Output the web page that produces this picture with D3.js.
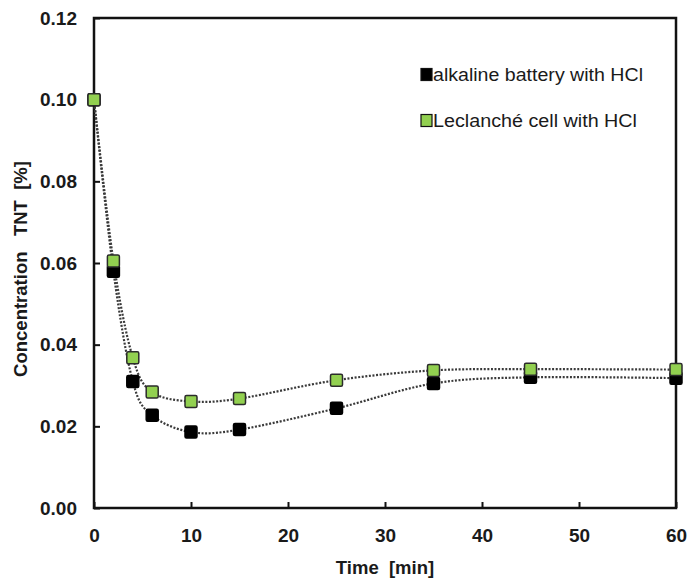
<!DOCTYPE html>
<html>
<head>
<meta charset="utf-8">
<script src="https://cdn.jsdelivr.net/npm/d3@7"></script>
<style>
	body { margin: 0; background: #fff; }
	text { font-family: 'Liberation Sans', Arial, sans-serif; }
</style>
</head>
<body>
<script>
	// DATA
	const times = [0, 2, 4, 6, 10, 15, 25, 35, 45, 60];
	const alkaline = [0.100, 0.058, 0.031, 0.0227, 0.0186, 0.0192, 0.0244, 0.0305, 0.0320, 0.0318];
	const leclanche = [0.100, 0.0605, 0.0368, 0.0284, 0.0261, 0.0268, 0.0313, 0.0337, 0.0340, 0.0339];
	const seriesNames = ['alkaline battery with HCl', 'Leclanché cell with HCl'];
	const xTicks = [0, 10, 20, 30, 40, 50, 60];
	const yTicks = [0, 0.02, 0.04, 0.06, 0.08, 0.10, 0.12];

	// CONFIGURATION
	const width = 689;
	const height = 580;
	const plotLeft = 94, plotRight = 676, plotTop = 18, plotBottom = 508;
	const fills = ['#000000', '#92d050'];

	const svg = d3.select('body')
		.append('svg')
		.attr('width', width)
		.attr('height', height);

	const xScale = d3.scaleLinear().domain([0, 60]).range([plotLeft, plotRight]);
	const yScale = d3.scaleLinear().domain([0, 0.12]).range([plotBottom, plotTop]);

	// AXES (ticks inward)
	svg.append('g')
		.attr('transform', `translate(0, ${plotBottom})`)
		.call(d3.axisBottom(xScale).tickValues(xTicks).tickSizeInner(-6).tickSizeOuter(0).tickPadding(21).tickFormat(d3.format('d')))
		.call(g => g.select('.domain').remove())
		.call(g => g.selectAll('line').attr('stroke', '#111').attr('stroke-width', 2))
		.call(g => g.selectAll('text').attr('font-size', 19).attr('font-weight', 'bold').attr('fill', '#1a1a1a').attr('font-family', 'Liberation Sans, Arial, sans-serif'));

	svg.append('g')
		.attr('transform', `translate(${plotLeft}, 0)`)
		.call(d3.axisLeft(yScale).tickValues(yTicks).tickSizeInner(-6).tickSizeOuter(0).tickPadding(17).tickFormat(d3.format('.2f')))
		.call(g => g.select('.domain').remove())
		.call(g => g.selectAll('line').attr('stroke', '#111').attr('stroke-width', 2))
		.call(g => g.selectAll('text').attr('font-size', 19).attr('font-weight', 'bold').attr('fill', '#1a1a1a').attr('font-family', 'Liberation Sans, Arial, sans-serif'));

	// FRAME
	svg.append('rect')
		.attr('x', plotLeft)
		.attr('y', plotTop)
		.attr('width', plotRight - plotLeft)
		.attr('height', plotBottom - plotTop)
		.attr('fill', 'none')
		.attr('stroke', '#111')
		.attr('stroke-width', 2.5);

	// LINES
	const line = d3.line()
		.x(d => xScale(d[0]))
		.y(d => yScale(d[1]))
		.curve(d3.curveCatmullRom.alpha(0));

	[alkaline, leclanche].forEach(values => {
		svg.append('path')
			.datum(times.map((t, i) => [t, values[i]]))
			.attr('d', line)
			.attr('fill', 'none')
			.attr('stroke', '#3a3a3a')
			.attr('stroke-width', 2.2)
			.attr('stroke-dasharray', '2 1.6');
	});

	// MARKERS
	const size = 12;
	[alkaline, leclanche].forEach((values, k) => {
		svg.append('g')
			.selectAll('rect')
			.data(times.map((t, i) => [t, values[i]]))
			.enter()
			.append('rect')
			.attr('x', d => xScale(d[0]) - size / 2)
			.attr('y', d => yScale(d[1]) - size / 2)
			.attr('width', size)
			.attr('height', size)
			.attr('rx', 1.5)
			.attr('fill', fills[k])
			.attr('stroke', k === 0 ? '#000' : '#2b2b2b')
			.attr('stroke-width', 1.5);
	});

	// LEGEND
	const legend = svg.append('g');
	const legendWidths = [210, 204];
	seriesNames.forEach((name, k) => {
		const cy = 74.5 + k * 46;
		legend.append('rect')
			.attr('x', 421)
			.attr('y', cy - 6)
			.attr('width', 11)
			.attr('height', 12)
			.attr('fill', fills[k])
			.attr('stroke', '#111')
			.attr('stroke-width', 1.2);
		legend.append('text')
			.attr('x', 433)
			.attr('y', cy + 6)
			.attr('font-size', 17.5)
			.attr('fill', '#1a1a1a')
			.attr('textLength', legendWidths[k])
			.attr('lengthAdjust', 'spacingAndGlyphs')
			.text(name);
	});

	// AXIS TITLES
	svg.append('text')
		.attr('x', (plotLeft + plotRight) / 2)
		.attr('y', 574)
		.attr('text-anchor', 'middle')
		.attr('font-size', 18.5)
		.attr('font-weight', 'bold')
		.attr('fill', '#1a1a1a')
		.style('white-space', 'pre')
		.text('Time  [min]');

	svg.append('text')
		.attr('transform', `translate(27, 269) rotate(-90)`)
		.attr('text-anchor', 'middle')
		.attr('font-size', 18.5)
		.attr('font-weight', 'bold')
		.attr('fill', '#1a1a1a')
		.style('white-space', 'pre')
		.text('Concentration   TNT  [%]');
</script>
</body>
</html>
